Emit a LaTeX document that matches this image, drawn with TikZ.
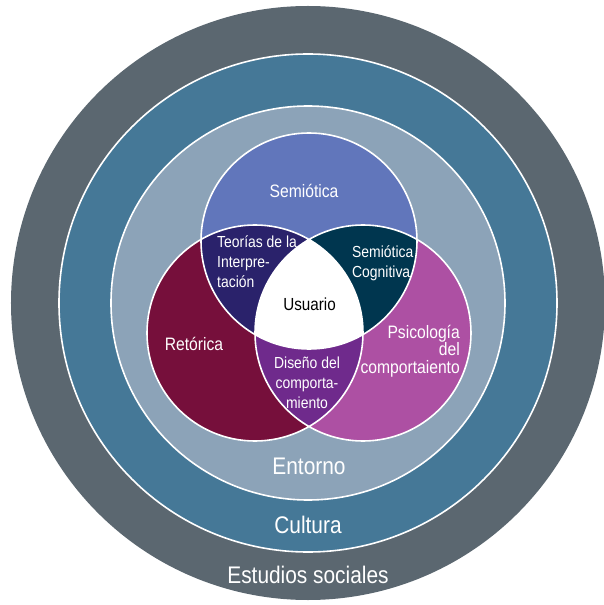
\documentclass[tikz,border=0pt]{standalone}
\usepackage{fontspec}
\setmainfont{Liberation Sans}[FakeStretch=0.87]

\definecolor{sociales}{RGB}{91,103,112}
\definecolor{cultura}{RGB}{69,120,151}
\definecolor{entorno}{RGB}{140,163,184}
\definecolor{semiotica}{RGB}{97,118,187}
\definecolor{retorica}{RGB}{118,15,59}
\definecolor{psicologia}{RGB}{173,80,163}
\definecolor{teorias}{RGB}{42,34,107}
\definecolor{cognitiva}{RGB}{0,54,79}
\definecolor{diseno}{RGB}{111,42,140}

\tikzset{
  ring/.style={draw=white, line width=1.6pt},
  lbl/.style={text=white, inner sep=0pt},
  big/.style={lbl, font=\fontsize{24}{28}\selectfont, anchor=base},
  mid/.style={lbl, font=\fontsize{18}{17.5}\selectfont},
  small/.style={lbl, font=\fontsize{16}{20}\selectfont}
}

\begin{document}
\begin{tikzpicture}[x=1pt,y=1pt]
  \clip (-308,-302) rectangle (296,303);

  %%% rings
  \fill[sociales] (0,0) circle (297);
  \draw[ring, fill=cultura] (0,0) circle (249);
  \draw[ring, fill=entorno] (0,0) circle (197);

  %%% three circles
  \coordinate (sem) at (1,62);
  \coordinate (ret) at (-53,-30);
  \coordinate (psi) at (55,-30);
  \def\rad{108}

  \fill[semiotica] (sem) circle (\rad);
  \fill[retorica] (ret) circle (\rad);
  \fill[psicologia] (psi) circle (\rad);

  \begin{scope}
    \clip (sem) circle (\rad);
    \fill[teorias] (ret) circle (\rad);
    \fill[cognitiva] (psi) circle (\rad);
  \end{scope}
  \begin{scope}
    \clip (ret) circle (\rad);
    \fill[diseno] (psi) circle (\rad);
  \end{scope}
  \begin{scope}
    \clip (sem) circle (\rad);
    \clip (ret) circle (\rad);
    \fill[white] (psi) circle (\rad);
  \end{scope}

  \draw[ring] (sem) circle (\rad) (ret) circle (\rad) (psi) circle (\rad);

  %%% labels (base = last line)
  \node[big] (estudios) at (0,-280) {Estudios sociales};
  \node[big] (cult) at (0,-230) {Cultura};
  \node[big] (ento) at (1,-171) {Entorno};

  \node[mid, anchor=base] (semi) at (-4,105) {Semiótica};
  \node[mid, anchor=base] (reto) at (-114,-47) {Retórica};
  \node[mid, anchor=base east, align=right] (psico) at (152,-70)
    {Psicología\\del\\comportaiento};

  \node[small, anchor=base west, align=left] (teo) at (-91,15)
    {Teorías de la\\Interpre-\\tación};
  \node[small, anchor=base west, align=left] (cogn) at (44,25)
    {Semiótica\\Cognitiva};
  \node[small, anchor=base, align=center] (dise) at (-1,-105)
    {Diseño del\\comporta-\\miento};
  \node[lbl, text=black, font=\fontsize{17.5}{20}\selectfont, anchor=base] (usu) at (1.5,-7) {Usuario};
\end{tikzpicture}
\end{document}
